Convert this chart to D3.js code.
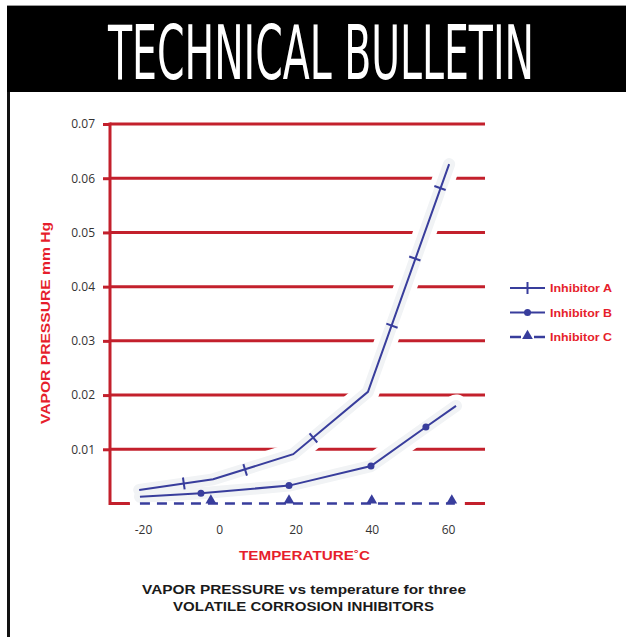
<!DOCTYPE html>
<html>
<head>
<meta charset="utf-8">
<script src="https://cdn.jsdelivr.net/npm/d3@7"></script>
<style>
  html, body { margin: 0; padding: 0; background: #fff; }
  svg { display: block; }
</style>
</head>
<body>
<svg id="chart" width="626" height="637"></svg>
<script>
// ---------- DATA ----------
const xTicks = [-20, 0, 20, 40, 60];
const yTicks = [0.01, 0.02, 0.03, 0.04, 0.05, 0.06, 0.07];
const seriesNames = ["Inhibitor A", "Inhibitor B", "Inhibitor C"];

// Inhibitor A: line vertices and tick markers
const aLineT = [-21, -1.6, 19.4, 39, 60.3];
const aLineV = [0.0025, 0.00446, 0.0091, 0.0206, 0.0626];
const aMarkT = [-9.3, 6.8, 24.7, 45.3, 51.3, 57.9];
const aMarkV = [0.0037, 0.0062, 0.0121, 0.0328, 0.0452, 0.0582];

// Inhibitor B
const bLineT = [-20.8, -4.8, 18.3, 39.8, 54.2, 62.1];
const bLineV = [0.00125, 0.0019, 0.0033, 0.0069, 0.0141, 0.018];
const bMarkT = [-4.8, 18.3, 39.8, 54.2];
const bMarkV = [0.0019, 0.0033, 0.0069, 0.0141];

// Inhibitor C
const cLineT = [-20.8, 61.8];
const cLineV = [0, 0];
const cMarkT = [-2.2, 18.3, 40, 61];
const cMarkV = [0, 0, 0, 0];

// ---------- STYLE ----------
const RED_LINE = "#c3202c";
const RED_TEXT = "#e61e2c";
const BLUE = "#383d9c";
const HALO_GRAY = "#f1f3f5";

const svg = d3.select("#chart");

// Header
svg.append("rect").attr("x", 7).attr("y", 5).attr("width", 619).attr("height", 1).attr("fill", "#999");
svg.append("rect").attr("x", 7).attr("y", 6).attr("width", 619).attr("height", 86).attr("fill", "#000");
svg.append("rect").attr("x", 7).attr("y", 92).attr("width", 3).attr("height", 545).attr("fill", "#111");
svg.append("text")
  .attr("transform", "translate(321,79) scale(1,1.85)")
  .attr("text-anchor", "middle")
  .attr("font-family", "'DejaVu Sans Condensed', 'Liberation Sans Narrow', 'DejaVu Sans', sans-serif")
  .attr("font-weight", "normal")
  .attr("font-size", 40)
  .attr("fill", "#fff")
  .attr("textLength", 426)
  .attr("lengthAdjust", "spacingAndGlyphs")
  .text("TECHNICAL BULLETIN");

// Scales
const x = d3.scaleLinear().domain([-20, 60]).range([143, 448]);
const y = d3.scaleLinear().domain([0, 0.07]).range([503.5, 124]);
const axisX = 110, gridRight = 485;

// Gridlines (including zero line)
svg.append("g").selectAll("line")
  .data([0].concat(yTicks))
  .join("line")
  .attr("x1", axisX).attr("x2", gridRight)
  .attr("y1", d => y(d)).attr("y2", d => y(d))
  .attr("stroke", RED_LINE).attr("stroke-width", 3);

// Y axis ticks and labels
const yAxis = svg.append("g")
  .attr("transform", `translate(${axisX},0)`)
  .call(d3.axisLeft(y).tickValues(yTicks).tickSize(7).tickPadding(8).tickFormat(d3.format(".2f")));
yAxis.select(".domain").remove();
yAxis.selectAll(".tick line").attr("stroke", RED_LINE).attr("stroke-width", 3);
yAxis.selectAll(".tick text")
  .attr("font-family", "'Open Sans', 'Liberation Sans', sans-serif")
  .attr("font-size", 12).attr("fill", "#333");

// Vertical axis line
svg.append("line")
  .attr("x1", axisX).attr("x2", axisX)
  .attr("y1", y(0.07) - 1.5).attr("y2", y(0) + 1.5)
  .attr("stroke", RED_LINE).attr("stroke-width", 3);

// X axis labels (plain hyphen for negatives, as in the reference)
const xAxis = svg.append("g")
  .attr("transform", `translate(0,${y(0)})`)
  .call(d3.axisBottom(x).tickValues(xTicks).tickSize(0).tickPadding(22).tickFormat(d => String(d)));
xAxis.select(".domain").remove();
xAxis.selectAll(".tick text")
  .attr("font-family", "'Open Sans', 'Liberation Sans', sans-serif")
  .attr("font-size", 12).attr("fill", "#333");

// Lines
const line = d3.line().x(d => x(d[0])).y(d => y(d[1]));
const aPts = d3.zip(aLineT, aLineV);
const bPts = d3.zip(bLineT, bLineV);
const cPts = d3.zip(cLineT, cLineV);

const haloG = svg.append("g");
haloG.append("path").attr("d", line(cPts)).attr("fill", "none")
  .attr("stroke", "#fff").attr("stroke-width", 20).attr("stroke-linecap", "square");
[aPts, bPts].forEach(p => {
  haloG.append("path").attr("d", line(p)).attr("fill", "none")
    .attr("stroke", "#fff").attr("stroke-width", 23)
    .attr("stroke-linecap", "round").attr("stroke-linejoin", "round");
});
[aPts, bPts].forEach(p => {
  haloG.append("path").attr("d", line(p)).attr("fill", "none")
    .attr("stroke", HALO_GRAY).attr("stroke-width", 12)
    .attr("stroke-linecap", "round").attr("stroke-linejoin", "round");
});

svg.append("path").attr("d", line(aPts)).attr("fill", "none").attr("stroke", BLUE).attr("stroke-width", 2);
svg.append("path").attr("d", line(bPts)).attr("fill", "none").attr("stroke", BLUE).attr("stroke-width", 2);
svg.append("path").attr("d", line(cPts)).attr("fill", "none").attr("stroke", BLUE).attr("stroke-width", 2.5)
  .attr("stroke-dasharray", "10,7");

// A markers: short ticks perpendicular to the local line direction
function localAngle(t) {
  let i = 0;
  while (i < aLineT.length - 2 && t > aLineT[i + 1]) i++;
  const dx = x(aLineT[i + 1]) - x(aLineT[i]);
  const dy = y(aLineV[i + 1]) - y(aLineV[i]);
  return Math.atan2(dy, dx) * 180 / Math.PI;
}
svg.append("g").selectAll("line")
  .data(d3.zip(aMarkT, aMarkV))
  .join("line")
  .attr("x1", 0).attr("x2", 0).attr("y1", -6).attr("y2", 6)
  .attr("transform", d => `translate(${x(d[0])},${y(d[1])}) rotate(${localAngle(d[0])})`)
  .attr("stroke", BLUE).attr("stroke-width", 2);

// B markers: dots
svg.append("g").selectAll("circle")
  .data(d3.zip(bMarkT, bMarkV))
  .join("circle")
  .attr("cx", d => x(d[0])).attr("cy", d => y(d[1])).attr("r", 3.5)
  .attr("fill", BLUE);

// C markers: triangles
const tri = d3.symbol().type(d3.symbolTriangle).size(50);
svg.append("g").selectAll("path")
  .data(d3.zip(cMarkT, cMarkV))
  .join("path")
  .attr("d", tri)
  .attr("transform", d => `translate(${x(d[0])},${y(d[1]) - 3})`)
  .attr("fill", BLUE);

// Legend
const legY = [288, 312.5, 337];
const lg = svg.append("g");
seriesNames.forEach((name, i) => {
  const gy = legY[i];
  if (i < 2) {
    lg.append("line").attr("x1", 510).attr("x2", 545).attr("y1", gy).attr("y2", gy)
      .attr("stroke", BLUE).attr("stroke-width", 2);
  } else {
    lg.append("line").attr("x1", 510).attr("x2", 521).attr("y1", gy).attr("y2", gy)
      .attr("stroke", BLUE).attr("stroke-width", 2.5);
    lg.append("line").attr("x1", 534).attr("x2", 545).attr("y1", gy).attr("y2", gy)
      .attr("stroke", BLUE).attr("stroke-width", 2.5);
  }
  if (i === 0) {
    lg.append("line").attr("x1", 527.5).attr("x2", 527.5).attr("y1", gy - 6).attr("y2", gy + 6)
      .attr("stroke", BLUE).attr("stroke-width", 2);
  } else if (i === 1) {
    lg.append("circle").attr("cx", 527.5).attr("cy", gy).attr("r", 3.5).attr("fill", BLUE);
  } else {
    lg.append("path").attr("d", tri).attr("transform", `translate(527.5,${gy - 1})`).attr("fill", BLUE);
  }
  lg.append("text").attr("x", 550).attr("y", gy + 4)
    .attr("font-family", "'Liberation Sans', Arial, sans-serif")
    .attr("font-weight", "bold").attr("font-size", 11)
    .attr("fill", RED_TEXT)
    .attr("textLength", 62).attr("lengthAdjust", "spacingAndGlyphs")
    .text(name);
});

// Axis titles
svg.append("text")
  .attr("transform", "translate(49.5,323) rotate(-90)")
  .attr("text-anchor", "middle")
  .attr("font-family", "'Liberation Sans', Arial, sans-serif")
  .attr("font-weight", "bold").attr("font-size", 12.5)
  .attr("fill", RED_TEXT)
  .attr("textLength", 202).attr("lengthAdjust", "spacingAndGlyphs")
  .text("VAPOR PRESSURE mm Hg");

svg.append("text")
  .attr("x", 304.5).attr("y", 559.5)
  .attr("text-anchor", "middle")
  .attr("font-family", "'Liberation Sans', Arial, sans-serif")
  .attr("font-weight", "bold").attr("font-size", 12.5)
  .attr("fill", RED_TEXT)
  .attr("textLength", 131).attr("lengthAdjust", "spacingAndGlyphs")
  .text("TEMPERATURE\u02DAC");

// Caption
svg.append("text")
  .attr("x", 304).attr("y", 593.5)
  .attr("text-anchor", "middle")
  .attr("font-family", "'Liberation Sans', Arial, sans-serif")
  .attr("font-weight", "bold").attr("font-size", 12.5)
  .attr("fill", "#1a1a1a")
  .attr("textLength", 324).attr("lengthAdjust", "spacingAndGlyphs")
  .text("VAPOR PRESSURE vs temperature for three");
svg.append("text")
  .attr("x", 303.5).attr("y", 610.5)
  .attr("text-anchor", "middle")
  .attr("font-family", "'Liberation Sans', Arial, sans-serif")
  .attr("font-weight", "bold").attr("font-size", 12.5)
  .attr("fill", "#1a1a1a")
  .attr("textLength", 261).attr("lengthAdjust", "spacingAndGlyphs")
  .text("VOLATILE CORROSION INHIBITORS");
</script>
</body>
</html>
